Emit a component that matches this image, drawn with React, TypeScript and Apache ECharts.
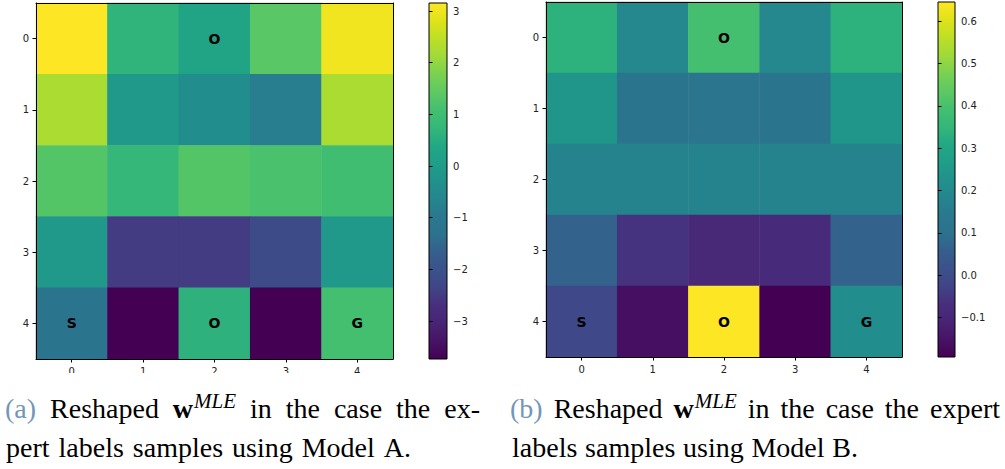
import React, { useEffect, useRef } from "react";
import * as echarts from "echarts";

const xCats = ["0", "1", "2", "3", "4"];
const yCats = ["0", "1", "2", "3", "4"];

// Model A weights (rows = y 0..4, cols = x 0..4)
const valuesA: number[][] = [
  [3.15, 0.68, 0.26, 1.36, 3.0],
  [2.26, -0.08, -0.43, -0.84, 2.26],
  [1.3, 0.75, 1.3, 1.16, 1.02],
  [-0.08, -2.49, -2.49, -2.15, -0.08],
  [-1.18, -3.73, 0.61, -3.73, 1.09],
];
// Model B weights
const valuesB: number[][] = [
  [0.335, 0.19, 0.393, 0.19, 0.335],
  [0.243, 0.117, 0.12, 0.117, 0.243],
  [0.176, 0.176, 0.176, 0.176, 0.176],
  [0.067, -0.059, -0.092, -0.084, 0.067],
  [-0.009, -0.16, 0.645, -0.193, 0.21],
];
const markers: string[][] = [
  ["", "", "O", "", ""],
  ["", "", "", "", ""],
  ["", "", "", "", ""],
  ["", "", "", "", ""],
  ["S", "", "O", "", "G"],
];
const rangeA = [-3.735, 3.155];
const rangeB = [-0.193, 0.645];
const ticksA = [-3, -2, -1, 0, 1, 2, 3];
const ticksB = [-0.1, 0, 0.1, 0.2, 0.3, 0.4, 0.5, 0.6];

// caption lines (laid out word by word)
const capA1 = ["(a)", "Reshaped", "w", "MLE", "in", "the", "case", "the", "ex-"];
const capA2 = ["pert", "labels", "samples", "using", "Model", "A."];
const capB1 = ["(b)", "Reshaped", "w", "MLE", "in", "the", "case", "the", "expert"];
const capB2 = ["labels", "samples", "using", "Model", "B."];

const viridis = [
  "#440154", "#471365", "#482475", "#472f7d", "#414487", "#3b528b",
  "#355f8d", "#2c728e", "#2a788e", "#24868e", "#21918c", "#1f9e89",
  "#22a884", "#35b779", "#44bf70", "#5ec962", "#7ad151", "#9fda3a",
  "#bddf26", "#dfe318", "#fde725",
];
const viridisPos = [
  0, 0.05, 0.1, 0.15, 0.2, 0.25, 0.3, 0.35, 0.4, 0.45, 0.5, 0.55, 0.6, 0.65,
  0.7, 0.75, 0.8, 0.85, 0.9, 0.95, 1,
];

const toData = (m: number[][]) => {
  const out: number[][] = [];
  m.forEach((row, yi) => row.forEach((v, xi) => out.push([xi, yi, v])));
  return out;
};

const minus = (s: string) => s.replace("-", "\u2212");
const tickFont = { fontFamily: "DejaVu Sans", fontSize: 10, color: "#222" };
const capFont = "Liberation Serif";
const capSize = 28;

export default function App() {
  const ref = useRef<HTMLDivElement>(null);
  useEffect(() => {
    document.body.style.margin = "0";
    const chart = echarts.init(ref.current!, null, { renderer: "svg" });
    const grad = () =>
      new echarts.graphic.LinearGradient(
        0, 1, 0, 0,
        viridis.map((c, i) => ({ offset: viridisPos[i], color: c }))
      );
    const heatGrids = [
      { left: 36, top: 3, width: 357, height: 356 },
      { left: 546, top: 2, width: 356, height: 355 },
    ];
    const barGrids = [
      { left: 429, top: 3, width: 18, height: 356 },
      { left: 938, top: 2, width: 17, height: 355 },
    ];
    const grids: any[] = [];
    const xAxes: any[] = [];
    const yAxes: any[] = [];
    const series: any[] = [];
    const visualMaps: any[] = [];
    const sets = [
      { vals: valuesA, range: rangeA, ticks: ticksA, fmt: (v: number) => minus(String(v)) },
      { vals: valuesB, range: rangeB, ticks: ticksB, fmt: (v: number) => minus(v.toFixed(1)) },
    ];
    sets.forEach((s, k) => {
      const gh = grids.length;
      grids.push({ ...heatGrids[k], show: false });
      const gb = grids.length;
      grids.push({
        ...barGrids[k],
        show: true,
        backgroundColor: grad(),
        borderColor: "#000",
        borderWidth: 1,
      });
      const lineOnly = { show: true, lineStyle: { color: "#000", width: 1 } };
      const xi = xAxes.length;
      xAxes.push({
        type: "category", gridIndex: gh, data: xCats, z: 5,
        axisLine: lineOnly,
        axisTick: { show: true, alignWithLabel: true, length: 3.5, lineStyle: { color: "#000" } },
        axisLabel: { ...tickFont, margin: 7 },
        splitLine: { show: false },
      });
      xAxes.push({
        type: "category", gridIndex: gh, data: xCats, position: "top", z: 5,
        axisLine: lineOnly, axisTick: { show: false }, axisLabel: { show: false },
      });
      xAxes.push({ type: "value", gridIndex: gb, show: false, min: 0, max: 1 });
      const yi = yAxes.length;
      yAxes.push({
        type: "category", gridIndex: gh, data: yCats, inverse: true, z: 5,
        axisLine: lineOnly,
        axisTick: { show: true, alignWithLabel: true, length: 3.5, lineStyle: { color: "#000" } },
        axisLabel: { ...tickFont, margin: 7 },
        splitLine: { show: false },
      });
      yAxes.push({
        type: "category", gridIndex: gh, data: yCats, inverse: true, position: "right", z: 5,
        axisLine: lineOnly, axisTick: { show: false }, axisLabel: { show: false },
      });
      yAxes.push({
        type: "value", gridIndex: gb, position: "right",
        min: s.range[0], max: s.range[1],
        axisLine: { show: false },
        splitLine: { show: false },
        axisTick: { show: true, length: 3.5, customValues: s.ticks, lineStyle: { color: "#000" } },
        axisLabel: { ...tickFont, margin: 6, customValues: s.ticks, formatter: s.fmt },
      });
      const si = series.length;
      series.push({
        type: "heatmap",
        xAxisIndex: xi,
        yAxisIndex: yi,
        data: toData(s.vals),
        label: {
          show: true,
          formatter: (p: any) => markers[p.data[1]][p.data[0]],
          fontFamily: "DejaVu Sans",
          fontWeight: "bold",
          fontSize: 14,
          color: "#000",
        },
        emphasis: { disabled: true },
      });
      visualMaps.push({
        type: "continuous",
        show: false,
        seriesIndex: si,
        dimension: 2,
        min: s.range[0],
        max: s.range[1],
        inRange: { color: viridis },
      });
    });

    const styleFor = (t: string): any => {
      if (t === "(a)" || t === "(b)") return { fill: "#7396b8" };
      if (t === "w") return { fontWeight: "bold" };
      if (t === "MLE") return { fontSize: 21, fontStyle: "italic" };
      return {};
    };
    const ctx = document.createElement("canvas").getContext("2d")!;
    const measure = (t: string) => {
      const st = styleFor(t);
      ctx.font = `${st.fontStyle || "normal"} ${st.fontWeight || "normal"} ${st.fontSize || capSize}px "${capFont}"`;
      return ctx.measureText(t).width;
    };
    const word = (text: string, x: number, y: number, extra: any = {}) => ({
      type: "text",
      x,
      y,
      z: 100,
      style: {
        text,
        fontFamily: capFont,
        fontSize: capSize,
        fill: "#000",
        align: "left",
        verticalAlign: "middle",
        ...extra,
      },
    });
    // justified line: "w" and "MLE" are glued together
    const justified = (words: string[], x0: number, x1: number, y: number) => {
      const units: string[][] = [];
      words.forEach((t) => {
        if (t === "MLE") units[units.length - 1].push(t);
        else units.push([t]);
      });
      const unitW = units.map((u) => u.reduce((a, t) => a + measure(t) + (t === "w" ? 1 : 0), 0));
      const total = unitW.reduce((a, b) => a + b, 0);
      const gap = (x1 - x0 - total) / (units.length - 1);
      const els: any[] = [];
      let x = x0;
      units.forEach((u, i) => {
        let xx = x;
        u.forEach((t) => {
          els.push(word(t, xx, t === "MLE" ? y - 7 : y, styleFor(t)));
          xx += measure(t) + (t === "w" ? 1 : 0);
        });
        x += unitW[i] + gap;
      });
      return els;
    };

    chart.setOption({
      animation: false,
      backgroundColor: "#fff",
      grid: grids,
      xAxis: xAxes,
      yAxis: yAxes,
      visualMap: visualMaps,
      series,
      graphic: [
        { type: "rect", shape: { x: 0, y: 373, width: 1005, height: 20 }, style: { fill: "#fff" }, z: 90 },
        ...justified(capA1, 5, 480, 408),
        ...justified(capA2, 6, 411, 447),
        ...justified(capB1, 510, 1000, 408),
        ...justified(capB2, 512, 858, 447),
      ],
    });
    return () => chart.dispose();
  }, []);
  return <div ref={ref} style={{ width: 1005, height: 469 }} />;
}
